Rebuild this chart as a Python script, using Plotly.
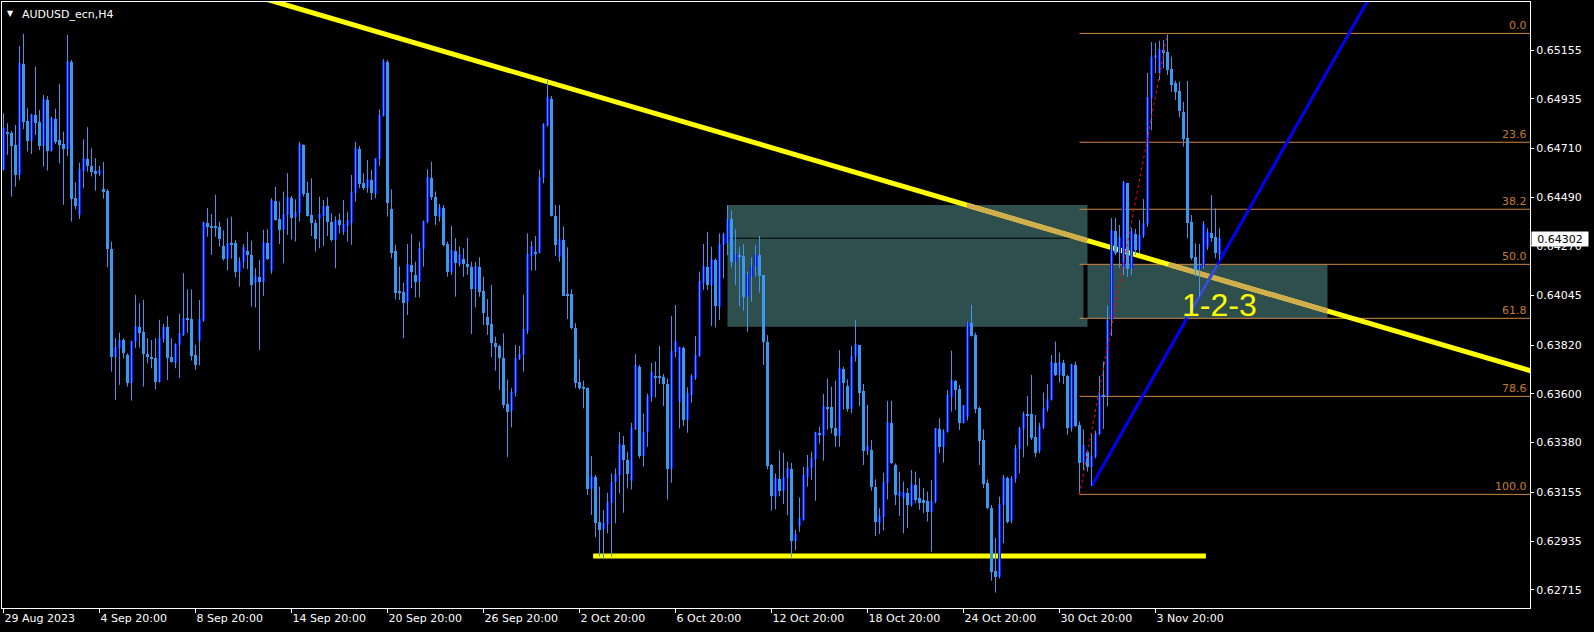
import plotly.graph_objects as go

# ---------------- data ----------------
chart_title = "AUDUSD_ecn,H4"
date_tick_bars = [0, 24, 48, 72, 96, 120, 144, 168, 192, 216, 240, 264, 288]
date_tick_labels = ["29 Aug 2023", "4 Sep 20:00", "8 Sep 20:00", "14 Sep 20:00", "20 Sep 20:00",
                    "26 Sep 20:00", "2 Oct 20:00", "6 Oct 20:00", "12 Oct 20:00", "18 Oct 20:00",
                    "24 Oct 20:00", "30 Oct 20:00", "3 Nov 20:00"]
price_ticks = [0.65155, 0.64935, 0.64710, 0.64490, 0.64270, 0.64045,
               0.63820, 0.63600, 0.63380, 0.63155, 0.62935, 0.62715]

opens = [
 0.64613, 0.64782, 0.64779, 0.64726, 0.64590, 0.65092, 0.64834, 0.64745, 0.64860, 0.64830,
 0.64721, 0.64929, 0.64699, 0.64843, 0.64748, 0.64730, 0.64709, 0.65100, 0.64486, 0.64411,
 0.64610, 0.64661, 0.64631, 0.64608, 0.64596, 0.64527, 0.64518, 0.64254, 0.63769, 0.63807,
 0.63844, 0.63776, 0.63651, 0.63834, 0.63902, 0.63879, 0.63779, 0.63763, 0.63763, 0.63656,
 0.63847, 0.63902, 0.63766, 0.63742, 0.63820, 0.63867, 0.63939, 0.63938, 0.63776, 0.63841,
 0.63932, 0.64372, 0.64357, 0.64355, 0.64355, 0.64269, 0.64212, 0.64283, 0.64283, 0.64153,
 0.64195, 0.64248, 0.64229, 0.64100, 0.64128, 0.64108, 0.64281, 0.64158, 0.64473, 0.64390,
 0.64339, 0.64408, 0.64485, 0.64402, 0.64420, 0.64726, 0.64507, 0.64409, 0.64375, 0.64390,
 0.64405, 0.64450, 0.64379, 0.64296, 0.64387, 0.64334, 0.64360, 0.64375, 0.64507, 0.64706,
 0.64555, 0.64530, 0.64567, 0.64503, 0.64661, 0.64857, 0.65101, 0.64435, 0.64248, 0.64067,
 0.64063, 0.64017, 0.64183, 0.64138, 0.64108, 0.64254, 0.64376, 0.64575, 0.64492, 0.64402,
 0.64439, 0.64278, 0.64153, 0.64247, 0.64188, 0.64209, 0.64188, 0.64173, 0.64073, 0.64173,
 0.64067, 0.63950, 0.63916, 0.63829, 0.63817, 0.63761, 0.63555, 0.63525, 0.63603, 0.63758,
 0.63776, 0.63886, 0.64224, 0.64243, 0.64239, 0.64575, 0.64813, 0.64932, 0.64405, 0.64218,
 0.64296, 0.64052, 0.64052, 0.63897, 0.63656, 0.63629, 0.63626, 0.63169, 0.63226, 0.63023,
 0.62988, 0.63012, 0.63105, 0.63203, 0.63233, 0.63369, 0.63301, 0.63208, 0.63440, 0.63723,
 0.63319, 0.63429, 0.63584, 0.63681, 0.63681, 0.63675, 0.63645, 0.63259, 0.63791, 0.63565,
 0.63806, 0.63482, 0.63595, 0.63670, 0.63771, 0.64103, 0.64175, 0.64092, 0.64205, 0.63994,
 0.64273, 0.64284, 0.64389, 0.64198, 0.64228, 0.64223, 0.64037, 0.64127, 0.64172, 0.64228,
 0.64138, 0.63833, 0.63279, 0.63135, 0.63214, 0.63162, 0.63218, 0.63259, 0.62936, 0.63003,
 0.63030, 0.63226, 0.63263, 0.63304, 0.63425, 0.63410, 0.63539, 0.63539, 0.63444, 0.63410,
 0.63711, 0.63636, 0.63530, 0.63768, 0.63821, 0.63615, 0.63343, 0.63346, 0.63178, 0.63018,
 0.63042, 0.63196, 0.63470, 0.63279, 0.63138, 0.63128, 0.63151, 0.63098, 0.63189, 0.63128,
 0.63121, 0.63118, 0.63068, 0.63113, 0.63440, 0.63359, 0.63430, 0.63588, 0.63660, 0.63621,
 0.63470, 0.63495, 0.63923, 0.63867, 0.63535, 0.63392, 0.63199, 0.63083, 0.62801, 0.62771,
 0.63098, 0.63219, 0.63027, 0.63214, 0.63350, 0.63440, 0.63510, 0.63510, 0.63404, 0.63344,
 0.63452, 0.63531, 0.63573, 0.63739, 0.63686, 0.63739, 0.63681, 0.63445, 0.63731, 0.63460,
 0.63290, 0.63339, 0.63272, 0.63314, 0.63419, 0.63596, 0.63591, 0.63934, 0.64337, 0.64236,
 0.64175, 0.64552, 0.64163, 0.64322, 0.64251, 0.64315, 0.64368, 0.64937, 0.65117, 0.65050,
 0.65155, 0.65146, 0.65069, 0.65006, 0.64971, 0.64876, 0.64756, 0.64379, 0.64218, 0.64160,
 0.64175, 0.64266, 0.64326, 0.64308, 0.64228]

highs = [
 0.64869, 0.64824, 0.64789, 0.64816, 0.65173, 0.65228, 0.64892, 0.64866, 0.65080, 0.64884,
 0.64952, 0.64947, 0.64854, 0.64889, 0.65002, 0.64786, 0.65223, 0.65110, 0.64557, 0.64646,
 0.64751, 0.64806, 0.64711, 0.64666, 0.64631, 0.64649, 0.64527, 0.64289, 0.63852, 0.63877,
 0.63852, 0.63784, 0.63841, 0.64048, 0.64010, 0.64025, 0.63852, 0.63844, 0.63852, 0.63935,
 0.63917, 0.63953, 0.63852, 0.63829, 0.63962, 0.64146, 0.64073, 0.64073, 0.63822, 0.64025,
 0.64379, 0.64441, 0.64414, 0.64500, 0.64379, 0.64339, 0.64394, 0.64402, 0.64296, 0.64218,
 0.64278, 0.64333, 0.64293, 0.64168, 0.64206, 0.64342, 0.64345, 0.64485, 0.64537, 0.64470,
 0.64515, 0.64598, 0.64495, 0.64480, 0.64741, 0.64729, 0.64560, 0.64575, 0.64387, 0.64492,
 0.64477, 0.64489, 0.64417, 0.64402, 0.64417, 0.64477, 0.64424, 0.64590, 0.64741, 0.64721,
 0.64598, 0.64658, 0.64613, 0.64665, 0.64887, 0.65114, 0.65110, 0.64525, 0.64274, 0.64176,
 0.64103, 0.64278, 0.64323, 0.64198, 0.64289, 0.64384, 0.64616, 0.64650, 0.64515, 0.64459,
 0.64454, 0.64289, 0.64360, 0.64304, 0.64266, 0.64259, 0.64307, 0.64198, 0.64197, 0.64218,
 0.64130, 0.64029, 0.64093, 0.63859, 0.63822, 0.63874, 0.63666, 0.63626, 0.63822, 0.63817,
 0.64048, 0.64326, 0.64292, 0.64314, 0.64613, 0.64824, 0.65017, 0.64947, 0.64454, 0.64454,
 0.64357, 0.64263, 0.64073, 0.63920, 0.63757, 0.63660, 0.63629, 0.63320, 0.63234, 0.63181,
 0.63075, 0.63153, 0.63241, 0.63263, 0.63429, 0.63410, 0.63339, 0.63470, 0.63780, 0.63731,
 0.63512, 0.63602, 0.63741, 0.63746, 0.63817, 0.63690, 0.63670, 0.63952, 0.64002, 0.63813,
 0.63813, 0.63630, 0.63690, 0.63862, 0.64153, 0.64278, 0.64333, 0.64266, 0.64213, 0.64326,
 0.64329, 0.64454, 0.64431, 0.64344, 0.64266, 0.64278, 0.64153, 0.64217, 0.64273, 0.64314,
 0.64138, 0.63866, 0.63283, 0.63241, 0.63346, 0.63334, 0.63294, 0.63289, 0.62985, 0.63132,
 0.63271, 0.63324, 0.63339, 0.63429, 0.63452, 0.63600, 0.63670, 0.63633, 0.63660, 0.63798,
 0.63723, 0.63666, 0.63817, 0.63934, 0.63821, 0.63645, 0.63550, 0.63392, 0.63214, 0.63083,
 0.63244, 0.63569, 0.63569, 0.63286, 0.63248, 0.63204, 0.63174, 0.63256, 0.63249, 0.63219,
 0.63174, 0.63159, 0.63211, 0.63445, 0.63490, 0.63440, 0.63618, 0.63796, 0.63663, 0.63641,
 0.63550, 0.63927, 0.64002, 0.63877, 0.63543, 0.63440, 0.63214, 0.63098, 0.62948, 0.63136,
 0.63234, 0.63226, 0.63229, 0.63370, 0.63452, 0.63520, 0.63591, 0.63686, 0.63505, 0.63470,
 0.63606, 0.63645, 0.63776, 0.63837, 0.63787, 0.63754, 0.63686, 0.63736, 0.63746, 0.63475,
 0.63440, 0.63347, 0.63422, 0.63434, 0.63681, 0.63746, 0.63998, 0.64395, 0.64395, 0.64364,
 0.64563, 0.64554, 0.64350, 0.64346, 0.64386, 0.64481, 0.65051, 0.65191, 0.65187, 0.65197,
 0.65200, 0.65230, 0.65125, 0.65016, 0.65012, 0.64921, 0.65015, 0.64409, 0.64281, 0.64278,
 0.64382, 0.64349, 0.64499, 0.64439, 0.64349]

lows = [
 0.64610, 0.64681, 0.64492, 0.64537, 0.64568, 0.64797, 0.64696, 0.64685, 0.64771, 0.64703,
 0.64628, 0.64610, 0.64696, 0.64730, 0.64643, 0.64455, 0.64676, 0.64379, 0.64435, 0.64391,
 0.64530, 0.64605, 0.64583, 0.64519, 0.64586, 0.64483, 0.64173, 0.63701, 0.63573, 0.63641,
 0.63761, 0.63633, 0.63570, 0.63807, 0.63810, 0.63633, 0.63739, 0.63716, 0.63621, 0.63651,
 0.63832, 0.63663, 0.63742, 0.63716, 0.63671, 0.63862, 0.63877, 0.63751, 0.63709, 0.63730,
 0.63927, 0.64311, 0.64229, 0.64311, 0.64266, 0.64203, 0.64158, 0.64212, 0.64128, 0.64085,
 0.64168, 0.64164, 0.63995, 0.63991, 0.63799, 0.64043, 0.64206, 0.64143, 0.64384, 0.64278,
 0.64191, 0.64319, 0.64299, 0.64289, 0.64379, 0.64492, 0.64402, 0.64314, 0.64243, 0.64259,
 0.64269, 0.64314, 0.64289, 0.64168, 0.64326, 0.64319, 0.64289, 0.64274, 0.64470, 0.64530,
 0.64522, 0.64510, 0.64477, 0.64485, 0.64631, 0.64854, 0.64402, 0.64213, 0.64028, 0.64025,
 0.63852, 0.63957, 0.64078, 0.64037, 0.64037, 0.64176, 0.64372, 0.64477, 0.64364, 0.64379,
 0.64266, 0.64130, 0.64138, 0.64040, 0.64176, 0.64130, 0.64138, 0.63871, 0.63992, 0.64040,
 0.63912, 0.63867, 0.63766, 0.63705, 0.63618, 0.63535, 0.63314, 0.63449, 0.63588, 0.63754,
 0.63701, 0.63871, 0.64158, 0.64158, 0.64236, 0.64552, 0.64809, 0.64402, 0.64224, 0.64198,
 0.64043, 0.63938, 0.63892, 0.63626, 0.63618, 0.63535, 0.63143, 0.63053, 0.62952, 0.62865,
 0.62857, 0.62970, 0.62864, 0.63015, 0.63150, 0.63063, 0.63173, 0.63168, 0.63437, 0.63309,
 0.63271, 0.63361, 0.63565, 0.63584, 0.63645, 0.63545, 0.63123, 0.63199, 0.63765, 0.63444,
 0.63455, 0.63425, 0.63560, 0.63663, 0.63768, 0.64070, 0.64070, 0.63907, 0.63901, 0.63934,
 0.64122, 0.64228, 0.64172, 0.64092, 0.63997, 0.63976, 0.63881, 0.64017, 0.64130, 0.64058,
 0.63731, 0.63259, 0.63072, 0.63078, 0.63138, 0.63102, 0.63052, 0.62861, 0.62894, 0.62977,
 0.63027, 0.63181, 0.63211, 0.63117, 0.63376, 0.63298, 0.63440, 0.63422, 0.63361, 0.63361,
 0.63530, 0.63520, 0.63512, 0.63746, 0.63545, 0.63279, 0.63324, 0.63162, 0.62957, 0.62967,
 0.62982, 0.63123, 0.63283, 0.63098, 0.63048, 0.62970, 0.62993, 0.63091, 0.63106, 0.63076,
 0.63061, 0.63023, 0.62887, 0.63106, 0.63332, 0.63290, 0.63425, 0.63520, 0.63528, 0.63437,
 0.63467, 0.63480, 0.63859, 0.63513, 0.63279, 0.63174, 0.63079, 0.62756, 0.62702, 0.62766,
 0.62925, 0.63015, 0.63015, 0.63199, 0.63241, 0.63314, 0.63365, 0.63392, 0.63314, 0.63332,
 0.63440, 0.63520, 0.63570, 0.63681, 0.63651, 0.63645, 0.63415, 0.63430, 0.63452, 0.63146,
 0.63256, 0.63249, 0.63184, 0.63309, 0.63415, 0.63442, 0.63543, 0.63862, 0.64228, 0.64169,
 0.64138, 0.64129, 0.64138, 0.64228, 0.64237, 0.64305, 0.64355, 0.64793, 0.65051, 0.65019,
 0.65072, 0.65042, 0.64966, 0.64929, 0.64851, 0.64718, 0.64304, 0.64206, 0.64130, 0.64040,
 0.64168, 0.64251, 0.64288, 0.64213, 0.64206]

closes = [
 0.64797, 0.64777, 0.64721, 0.64590, 0.65092, 0.64831, 0.64745, 0.64860, 0.64827, 0.64721,
 0.64929, 0.64699, 0.64843, 0.64741, 0.64726, 0.64709, 0.65100, 0.64483, 0.64450, 0.64613,
 0.64661, 0.64631, 0.64605, 0.64596, 0.64608, 0.64515, 0.64254, 0.63769, 0.63807, 0.63840,
 0.63784, 0.63651, 0.63834, 0.63902, 0.63877, 0.63779, 0.63769, 0.63760, 0.63656, 0.63847,
 0.63897, 0.63764, 0.63746, 0.63820, 0.63870, 0.63938, 0.63935, 0.63773, 0.63731, 0.63935,
 0.64375, 0.64354, 0.64352, 0.64352, 0.64302, 0.64212, 0.64277, 0.64274, 0.64153, 0.64195,
 0.64259, 0.64226, 0.64093, 0.64128, 0.64108, 0.64281, 0.64212, 0.64473, 0.64387, 0.64339,
 0.64408, 0.64485, 0.64397, 0.64420, 0.64726, 0.64504, 0.64405, 0.64372, 0.64302, 0.64409,
 0.64447, 0.64379, 0.64296, 0.64381, 0.64364, 0.64364, 0.64381, 0.64507, 0.64706, 0.64549,
 0.64533, 0.64567, 0.64507, 0.64661, 0.64857, 0.65101, 0.64465, 0.64239, 0.64058, 0.64058,
 0.64013, 0.64183, 0.64153, 0.64108, 0.64254, 0.64376, 0.64575, 0.64492, 0.64405, 0.64439,
 0.64272, 0.64153, 0.64247, 0.64191, 0.64228, 0.64188, 0.64176, 0.64073, 0.64173, 0.64063,
 0.63968, 0.63912, 0.63829, 0.63814, 0.63761, 0.63550, 0.63520, 0.63603, 0.63758, 0.63776,
 0.63889, 0.64228, 0.64263, 0.64236, 0.64575, 0.64816, 0.64937, 0.64405, 0.64274, 0.64296,
 0.64043, 0.64043, 0.63897, 0.63648, 0.63626, 0.63626, 0.63169, 0.63226, 0.63018, 0.62985,
 0.63012, 0.63108, 0.63199, 0.63233, 0.63369, 0.63301, 0.63238, 0.63440, 0.63726, 0.63319,
 0.63425, 0.63584, 0.63693, 0.63675, 0.63675, 0.63643, 0.63259, 0.63791, 0.63836, 0.63806,
 0.63482, 0.63600, 0.63675, 0.63773, 0.64107, 0.64175, 0.64092, 0.64205, 0.63997, 0.64273,
 0.64318, 0.64386, 0.64198, 0.64228, 0.64220, 0.64037, 0.64138, 0.64172, 0.64228, 0.64133,
 0.63836, 0.63274, 0.63138, 0.63214, 0.63162, 0.63218, 0.63259, 0.62936, 0.62962, 0.63033,
 0.63229, 0.63263, 0.63304, 0.63422, 0.63414, 0.63539, 0.63533, 0.63444, 0.63410, 0.63711,
 0.63651, 0.63530, 0.63768, 0.63821, 0.63606, 0.63343, 0.63358, 0.63178, 0.63022, 0.63042,
 0.63196, 0.63470, 0.63286, 0.63143, 0.63150, 0.63154, 0.63098, 0.63189, 0.63121, 0.63106,
 0.63109, 0.63068, 0.63113, 0.63440, 0.63359, 0.63430, 0.63591, 0.63660, 0.63618, 0.63470,
 0.63546, 0.63923, 0.63862, 0.63531, 0.63389, 0.63193, 0.63083, 0.62797, 0.62771, 0.63098,
 0.63219, 0.63023, 0.63214, 0.63350, 0.63440, 0.63505, 0.63501, 0.63400, 0.63335, 0.63452,
 0.63531, 0.63573, 0.63739, 0.63686, 0.63739, 0.63681, 0.63445, 0.63731, 0.63455, 0.63290,
 0.63365, 0.63272, 0.63314, 0.63419, 0.63596, 0.63588, 0.63932, 0.64337, 0.64237, 0.64304,
 0.64552, 0.64163, 0.64331, 0.64251, 0.64315, 0.64368, 0.64937, 0.65117, 0.65128, 0.65155,
 0.65140, 0.65065, 0.64997, 0.64965, 0.64881, 0.64751, 0.64374, 0.64213, 0.64160, 0.64178,
 0.64364, 0.64326, 0.64304, 0.64236, 0.64302]

last_price = 0.64302

fib_labels = ["0.0", "23.6", "38.2", "50.0", "61.8", "78.6", "100.0"]
fib_prices = [0.65230, 0.64738, 0.64435, 0.64186, 0.63942, 0.63589, 0.63146]
fib_start_bar = 269
fib_anchor_bars = [269, 291]
fib_anchor_prices = [0.63146, 0.65230]

resistance_bars = [60, 390]
resistance_prices = [0.65415, 0.63661]
support_bars = [147.4, 300.6]
support_price = 0.62867
uptrend_bars = [272, 342]
uptrend_prices = [0.63184, 0.65409]

zone_bars = [[181, 271], [270, 331]]
zone_prices = [[0.63904, 0.64454], [0.63942, 0.64186]]
zone_divider_price = 0.64304

pattern_label = "1-2-3"
pattern_bar = 304.1
pattern_price = 0.64002

# ---------------- styles ----------------
BG = "black"
CANDLE = "#3a98f0"
CANDLE_EDGE = "#1414ff"
YELLOW = "#ffff00"
TAN = "#d2ad4e"
ZONE = "#2f4f4f"
FIB = "#d0873c"
FIB_TXT = "#c27c36"
BLUE = "#0000ff"
BLUE_IN_ZONE = "#3553c6"
FONT = "DejaVu Sans"

n = len(opens)
idx = list(range(n))


def clip_segment(x0, y0, x1, y1, xmin, xmax, ymin, ymax):
    t0, t1 = 0.0, 1.0
    dx, dy = x1 - x0, y1 - y0
    for p, q in ((-dx, x0 - xmin), (dx, xmax - x0), (-dy, y0 - ymin), (dy, ymax - y0)):
        if p == 0:
            if q < 0:
                return None
        else:
            t = q / p
            if p < 0:
                t0 = max(t0, t)
            else:
                t1 = min(t1, t)
    if t0 > t1:
        return None
    return (x0 + t0 * dx, y0 + t0 * dy, x0 + t1 * dx, y0 + t1 * dy)


fig = go.Figure()

# wicks
wx, wy = [], []
for i in idx:
    wx += [i, i, None]
    wy += [lows[i], highs[i], None]

min_body = 0.00004
bull = [i for i in idx if closes[i] >= opens[i]]
bear = [i for i in idx if closes[i] < opens[i]]

fig.add_trace(go.Bar(
    x=bear, base=[closes[i] for i in bear],
    y=[max(opens[i] - closes[i], min_body) for i in bear],
    width=0.75, marker=dict(color=CANDLE, line=dict(width=0)), hoverinfo="skip"))
fig.add_trace(go.Bar(
    x=bull, base=[opens[i] for i in bull],
    y=[max(closes[i] - opens[i], min_body) for i in bull],
    width=0.5, marker=dict(color=CANDLE, line=dict(width=1, color=CANDLE_EDGE)), hoverinfo="skip"))
fig.add_trace(go.Scatter(x=wx, y=wy, mode="lines", line=dict(color=CANDLE, width=1),
                         hoverinfo="skip"))

# fib trend (dotted red)
fig.add_trace(go.Scatter(x=fib_anchor_bars, y=fib_anchor_prices, mode="lines",
                         line=dict(color="red", width=1, dash="dot"), hoverinfo="skip"))

shapes = []
# zones
for (xb, yb) in zip(zone_bars, zone_prices):
    shapes.append(dict(type="rect", xref="x", yref="y", x0=xb[0], x1=xb[1], y0=yb[0], y1=yb[1],
                       fillcolor=ZONE, line=dict(width=0), layer="below"))
# zone overlap (black)
ox0 = max(zone_bars[0][0], zone_bars[1][0]); ox1 = min(zone_bars[0][1], zone_bars[1][1])
oy0 = max(zone_prices[0][0], zone_prices[1][0]); oy1 = min(zone_prices[0][1], zone_prices[1][1])
shapes.append(dict(type="rect", xref="x", yref="y", x0=ox0, x1=ox1, y0=oy0, y1=oy1,
                   fillcolor="black", line=dict(width=0), layer="below"))
shapes.append(dict(type="line", xref="x", yref="y", x0=zone_bars[0][0], x1=zone_bars[0][1],
                   y0=zone_divider_price, y1=zone_divider_price,
                   line=dict(color="black", width=1), layer="below"))
# fib levels
for p in fib_prices:
    shapes.append(dict(type="line", xref="x", yref="y", x0=fib_start_bar, x1=400, y0=p, y1=p,
                       line=dict(color=FIB, width=1), layer="below"))
# resistance line
shapes.append(dict(type="line", xref="x", yref="y", x0=resistance_bars[0], x1=resistance_bars[1],
                   y0=resistance_prices[0], y1=resistance_prices[1],
                   line=dict(color=YELLOW, width=5), layer="below"))
for (xb, yb) in zip(zone_bars, zone_prices):
    seg = clip_segment(resistance_bars[0], resistance_prices[0], resistance_bars[1], resistance_prices[1],
                       xb[0], xb[1], yb[0], yb[1])
    if seg:
        shapes.append(dict(type="line", xref="x", yref="y", x0=seg[0], y0=seg[1], x1=seg[2], y1=seg[3],
                           line=dict(color=TAN, width=5), layer="below"))
# support line
shapes.append(dict(type="line", xref="x", yref="y", x0=support_bars[0], x1=support_bars[1],
                   y0=support_price, y1=support_price, line=dict(color=YELLOW, width=5), layer="below"))
# up trend line
shapes.append(dict(type="line", xref="x", yref="y", x0=uptrend_bars[0], x1=uptrend_bars[1],
                   y0=uptrend_prices[0], y1=uptrend_prices[1], line=dict(color=BLUE, width=3), layer="below"))
seg = clip_segment(uptrend_bars[0], uptrend_prices[0], uptrend_bars[1], uptrend_prices[1],
                   zone_bars[1][0], zone_bars[1][1], zone_prices[1][0], zone_prices[1][1])
if seg:
    shapes.append(dict(type="line", xref="x", yref="y", x0=seg[0], y0=seg[1], x1=seg[2], y1=seg[3],
                       line=dict(color=BLUE_IN_ZONE, width=3), layer="below"))

annotations = []
for lab, p in zip(fib_labels, fib_prices):
    annotations.append(dict(xref="paper", yref="y", x=1, y=p, xanchor="right", yanchor="bottom",
                            xshift=-1, yshift=-1, text=lab, showarrow=False,
                            font=dict(family=FONT, size=11, color=FIB_TXT)))
annotations.append(dict(xref="x", yref="y", x=pattern_bar, y=pattern_price, text=pattern_label,
                        showarrow=False, xanchor="center", yanchor="middle",
                        font=dict(family="Liberation Sans", size=32, color=YELLOW)))
annotations.append(dict(xref="paper", yref="y", x=1, y=last_price, xanchor="left", yanchor="middle",
                        xshift=1, text=f"{last_price:.5f}", showarrow=False, bgcolor="white",
                        width=54, height=12, borderpad=1, align="center",
                        font=dict(family=FONT, size=11, color="black")))
annotations.append(dict(xref="paper", yref="paper", x=0, y=1, xanchor="left", yanchor="top",
                        xshift=18, yshift=-4, text=chart_title, showarrow=False,
                        font=dict(family=FONT, size=11, color="white")))
annotations.append(dict(xref="paper", yref="paper", x=0, y=1, xanchor="left", yanchor="top",
                        xshift=3, yshift=-5, text="▼", showarrow=False,
                        font=dict(family=FONT, size=8, color="white")))

fig.update_layout(
    width=1594, height=632,
    margin=dict(l=2, r=64, t=2, b=24, autoexpand=False),
    paper_bgcolor=BG, plot_bgcolor=BG,
    showlegend=False, barmode="overlay", bargap=0,
    shapes=shapes, annotations=annotations,
    hovermode=False,
    xaxis=dict(range=[-0.375, 381.625], showgrid=False, zeroline=False,
               showline=True, linecolor="white", linewidth=1, mirror=True,
               ticks="outside", ticklen=4, tickcolor="white", tickwidth=1,
               tickvals=date_tick_bars, ticktext=date_tick_labels,
               ticklabelposition="outside right",
               tickfont=dict(family=FONT, size=11, color="white"), automargin=False),
    yaxis=dict(range=[0.626323, 0.653720], side="right", showgrid=False, zeroline=False,
               showline=True, linecolor="white", linewidth=1, mirror=True,
               ticks="outside", ticklen=3, tickcolor="white", tickwidth=1,
               tickvals=price_ticks, ticktext=[f"{v:.5f}" for v in price_ticks],
               tickfont=dict(family=FONT, size=11, color="white"), automargin=False),
)

fig.write_html("out.html", config={"displayModeBar": False},
               post_script="document.body.style.margin='0px';document.body.style.overflow='hidden';")
